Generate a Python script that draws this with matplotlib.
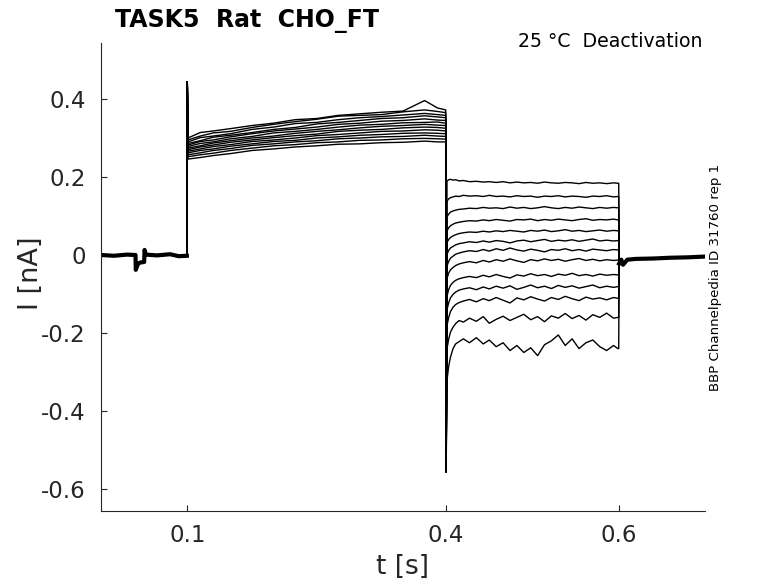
import numpy as np
import matplotlib
matplotlib.use("Agg")
import matplotlib.pyplot as plt

# ---------------- data ----------------
t_on, t_tail, t_off = 0.1, 0.4, 0.6
onset_peak = 0.444
tail_peak = -0.556

# baseline before the step (shared by all sweeps)
pre_t = [0.0, 0.015, 0.03, 0.040, 0.0403, 0.043, 0.046, 0.050, 0.0505, 0.052, 0.065, 0.08, 0.09, 0.0995]
pre_v = [0.0, -0.002, 0.001, 0.0, -0.038, -0.022, -0.019, -0.018, 0.013, 0.001, -0.001, 0.002, -0.003, -0.002]

# step (0.1 - 0.4 s)
step_t = [0.1008, 0.115, 0.13, 0.15, 0.175, 0.2, 0.225, 0.25, 0.275, 0.3, 0.325, 0.35, 0.375, 0.39, 0.3995]
step_v = [
    [0.300, 0.314, 0.318, 0.324, 0.332, 0.338, 0.347, 0.350, 0.358, 0.362, 0.366, 0.369, 0.396, 0.377, 0.372],
    [0.295, 0.305, 0.313, 0.317, 0.327, 0.335, 0.342, 0.348, 0.356, 0.358, 0.360, 0.367, 0.372, 0.368, 0.365],
    [0.290, 0.301, 0.305, 0.311, 0.322, 0.328, 0.337, 0.340, 0.347, 0.352, 0.355, 0.359, 0.363, 0.360, 0.358],
    [0.286, 0.293, 0.302, 0.307, 0.314, 0.322, 0.327, 0.336, 0.340, 0.345, 0.350, 0.352, 0.357, 0.354, 0.352],
    [0.282, 0.291, 0.295, 0.303, 0.311, 0.318, 0.323, 0.328, 0.335, 0.338, 0.343, 0.345, 0.349, 0.346, 0.345],
    [0.278, 0.286, 0.290, 0.298, 0.304, 0.313, 0.317, 0.322, 0.328, 0.333, 0.335, 0.339, 0.340, 0.341, 0.338],
    [0.274, 0.280, 0.287, 0.293, 0.300, 0.305, 0.312, 0.317, 0.321, 0.326, 0.330, 0.332, 0.335, 0.333, 0.332],
    [0.270, 0.277, 0.282, 0.289, 0.295, 0.301, 0.306, 0.310, 0.317, 0.320, 0.322, 0.326, 0.328, 0.327, 0.325],
    [0.266, 0.272, 0.278, 0.283, 0.291, 0.295, 0.300, 0.306, 0.309, 0.313, 0.317, 0.318, 0.321, 0.320, 0.318],
    [0.262, 0.268, 0.272, 0.279, 0.285, 0.291, 0.294, 0.300, 0.303, 0.307, 0.309, 0.312, 0.313, 0.312, 0.311],
    [0.257, 0.262, 0.268, 0.273, 0.281, 0.285, 0.290, 0.293, 0.298, 0.300, 0.303, 0.304, 0.307, 0.305, 0.304],
    [0.252, 0.257, 0.261, 0.268, 0.274, 0.280, 0.283, 0.288, 0.290, 0.294, 0.295, 0.298, 0.299, 0.298, 0.297],
    [0.246, 0.250, 0.255, 0.260, 0.268, 0.272, 0.277, 0.280, 0.284, 0.285, 0.288, 0.289, 0.292, 0.290, 0.290],
]

# tail (0.4 - 0.6 s)
tail_t = [0.401, 0.403, 0.405, 0.408, 0.411, 0.415, 0.42, 0.427, 0.435, 0.443,
          0.45, 0.458, 0.466, 0.474, 0.482, 0.49, 0.498, 0.506, 0.514, 0.522,
          0.53, 0.538, 0.546, 0.554, 0.562, 0.57, 0.578, 0.586, 0.594, 0.599]
tail_v = [
    [0.190, 0.193, 0.194, 0.192, 0.193, 0.190, 0.191, 0.188, 0.189, 0.187,
     0.188, 0.186, 0.188, 0.185, 0.187, 0.185, 0.186, 0.184, 0.187, 0.185,
     0.184, 0.186, 0.185, 0.183, 0.186, 0.184, 0.185, 0.183, 0.185, 0.184],
    [0.138, 0.144, 0.147, 0.149, 0.151, 0.150, 0.153, 0.151, 0.152, 0.150,
     0.153, 0.150, 0.151, 0.149, 0.152, 0.150, 0.151, 0.148, 0.151, 0.150,
     0.152, 0.149, 0.151, 0.150, 0.148, 0.151, 0.150, 0.152, 0.149, 0.150],
    [0.098, 0.105, 0.110, 0.113, 0.115, 0.117, 0.118, 0.120, 0.119, 0.122,
     0.120, 0.121, 0.119, 0.123, 0.120, 0.122, 0.119, 0.121, 0.124, 0.121,
     0.119, 0.122, 0.120, 0.123, 0.121, 0.119, 0.122, 0.120, 0.122, 0.121],
    [0.062, 0.070, 0.075, 0.079, 0.082, 0.084, 0.086, 0.088, 0.087, 0.090,
     0.088, 0.091, 0.089, 0.087, 0.091, 0.090, 0.092, 0.088, 0.091, 0.089,
     0.092, 0.090, 0.088, 0.091, 0.093, 0.089, 0.091, 0.090, 0.092, 0.090],
    [0.032, 0.040, 0.045, 0.049, 0.052, 0.055, 0.057, 0.059, 0.058, 0.061,
     0.059, 0.062, 0.060, 0.063, 0.061, 0.059, 0.063, 0.061, 0.064, 0.060,
     0.062, 0.065, 0.061, 0.063, 0.060, 0.062, 0.064, 0.061, 0.063, 0.062],
    [0.002, 0.012, 0.018, 0.022, 0.026, 0.029, 0.031, 0.034, 0.032, 0.036,
     0.033, 0.037, 0.035, 0.031, 0.036, 0.038, 0.034, 0.037, 0.040, 0.035,
     0.038, 0.036, 0.039, 0.035, 0.038, 0.041, 0.036, 0.038, 0.036, 0.037],
    [-0.028, -0.016, -0.008, -0.003, 0.002, 0.005, 0.008, 0.011, 0.009, 0.014,
     0.010, 0.016, 0.012, 0.018, 0.013, 0.010, 0.015, 0.012, 0.008, 0.014,
     0.012, 0.016, 0.011, 0.014, 0.010, 0.015, 0.013, 0.011, 0.014, 0.013],
    [-0.060, -0.046, -0.038, -0.032, -0.027, -0.023, -0.020, -0.017, -0.020, -0.014,
     -0.018, -0.012, -0.016, -0.010, -0.015, -0.019, -0.012, -0.015, -0.010, -0.014,
     -0.011, -0.016, -0.012, -0.009, -0.014, -0.011, -0.015, -0.012, -0.014, -0.013],
    [-0.105, -0.088, -0.078, -0.070, -0.065, -0.061, -0.058, -0.055, -0.058, -0.052,
     -0.056, -0.050, -0.055, -0.059, -0.051, -0.054, -0.048, -0.053, -0.050, -0.055,
     -0.049, -0.052, -0.047, -0.053, -0.050, -0.054, -0.049, -0.052, -0.050, -0.051],
    [-0.140, -0.122, -0.110, -0.101, -0.095, -0.090, -0.087, -0.084, -0.089, -0.082,
     -0.087, -0.080, -0.085, -0.079, -0.088, -0.083, -0.077, -0.084, -0.080, -0.086,
     -0.078, -0.083, -0.079, -0.085, -0.081, -0.077, -0.084, -0.080, -0.083, -0.081],
    [-0.180, -0.160, -0.145, -0.134, -0.127, -0.122, -0.118, -0.114, -0.120, -0.112,
     -0.117, -0.109, -0.116, -0.123, -0.110, -0.115, -0.107, -0.113, -0.118, -0.109,
     -0.114, -0.106, -0.112, -0.117, -0.108, -0.113, -0.110, -0.115, -0.109, -0.111],
    [-0.240, -0.215, -0.198, -0.185, -0.176, -0.168, -0.172, -0.162, -0.170, -0.158,
     -0.175, -0.165, -0.157, -0.168, -0.160, -0.152, -0.166, -0.158, -0.171, -0.156,
     -0.162, -0.150, -0.163, -0.155, -0.167, -0.153, -0.160, -0.149, -0.162, -0.160],
    [-0.320, -0.285, -0.262, -0.240, -0.228, -0.222, -0.215, -0.225, -0.212, -0.228,
     -0.218, -0.235, -0.225, -0.245, -0.232, -0.250, -0.238, -0.258, -0.230, -0.220,
     -0.205, -0.232, -0.215, -0.240, -0.225, -0.218, -0.235, -0.245, -0.232, -0.240],
]

# baseline after the tail (shared)
post_t = [0.6005, 0.603, 0.605, 0.61, 0.62, 0.64, 0.66, 0.68, 0.70]
post_v = [-0.022, -0.012, -0.025, -0.012, -0.010, -0.009, -0.007, -0.006, -0.004]

xticks = [0.1, 0.4, 0.6]
xticklabels = ["0.1", "0.4", "0.6"]
yticks = [-0.6, -0.4, -0.2, 0.0, 0.2, 0.4]
yticklabels = ["-0.6", "-0.4", "-0.2", "0", "0.2", "0.4"]

title_txt = "TASK5  Rat  CHO_FT"
cond_txt = "25 \u00b0C  Deactivation"
side_txt = "BBP Channelpedia ID 31760 rep 1"
xlabel_txt = "t [s]"
ylabel_txt = "I [nA]"

# ---------------- figure ----------------
plt.rcParams['font.family'] = ['DejaVu Sans']
fig = plt.figure(figsize=(7.78, 5.83), dpi=100)
ax = fig.add_axes([101/778, 1-511/583, 604/778, 468/583])

dark = '#262626'
# shared baselines (thick to mimic overlapping noisy sweeps)
ax.plot(pre_t, pre_v, color='black', lw=3.0)
ax.plot(post_t, post_v, color='black', lw=3.0)

for sv, tv in zip(step_v, tail_v):
    tt = np.concatenate([[pre_t[-1], t_on], step_t, [t_tail], tail_t, [t_off], [post_t[0]]])
    vv = np.concatenate([[pre_v[-1], onset_peak], sv, [tail_peak], tv, [tv[-1]], [post_v[0]]])
    ax.plot(tt, vv, color='black', lw=1.0)

ax.set_xlim(0.0, 0.7)
ax.set_ylim((255-511)/390, (255-43)/390)
ax.set_xticks(xticks)
ax.set_xticklabels(xticklabels)
ax.set_yticks(yticks)
ax.set_yticklabels(yticklabels)

for s in ['top', 'right']:
    ax.spines[s].set_visible(False)
for s in ['left', 'bottom']:
    ax.spines[s].set_color(dark)
    ax.spines[s].set_linewidth(0.8)
ax.tick_params(direction='in', length=4.5, width=0.8, color=dark,
               labelcolor=dark, labelsize=16.5)
ax.tick_params(axis='y', pad=11)
ax.tick_params(axis='x', pad=9)

fig.text(115/778, 1-26.7/583, title_txt, fontsize=17, fontweight='bold',
         ha='left', va='baseline', color='black')
fig.text(702/778, 1-47.3/583, cond_txt, fontsize=13.6, ha='right',
         va='baseline', color='black')
fig.text(716/778, 1-277.5/583, side_txt, fontsize=9.6, rotation=90,
         ha='center', va='center', color='black')
fig.text(403/778, 1-567/583, xlabel_txt, fontsize=19, ha='center',
         va='center', color=dark)
fig.text(31/778, 1-273/583, ylabel_txt, fontsize=19.5, rotation=90,
         ha='center', va='center', color=dark)

fig.savefig('out.png', dpi=100)
